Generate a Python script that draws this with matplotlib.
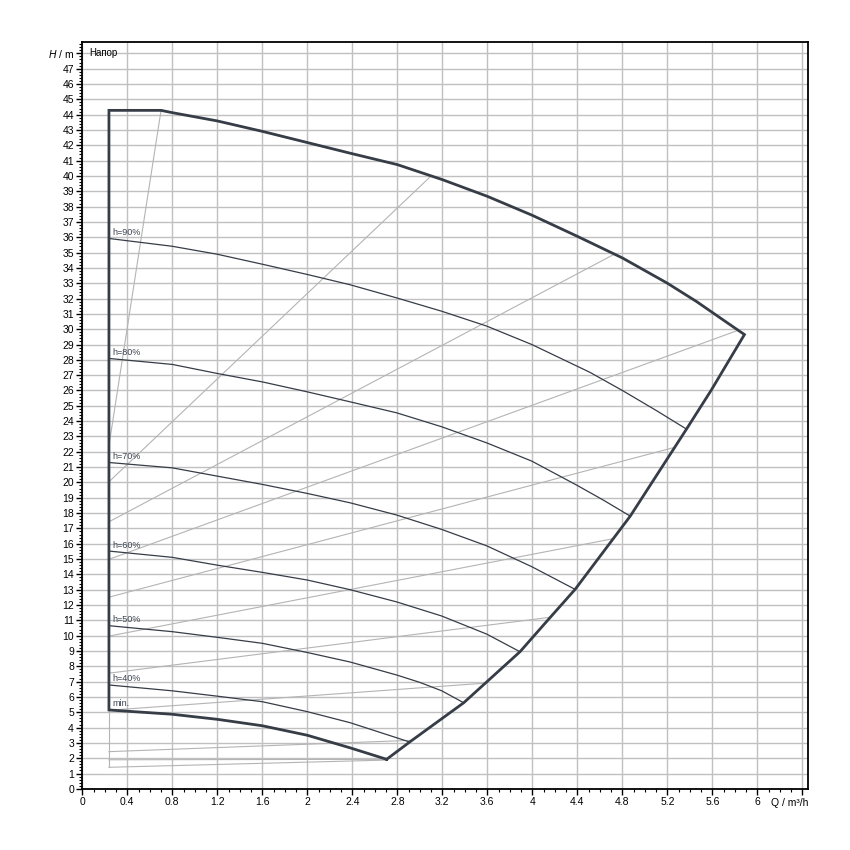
import numpy as np
import matplotlib
matplotlib.use("Agg")
import matplotlib.pyplot as plt

plt.rcParams['font.family'] = ['Liberation Sans', 'DejaVu Sans']
plt.rcParams['mathtext.fontset'] = 'custom'
plt.rcParams['mathtext.it'] = 'Liberation Sans:italic'
plt.rcParams['mathtext.rm'] = 'Liberation Sans'

# envelope of the operating range (Q in m3/h, H in m)
min_q = [2.705, 2.38, 2.0, 1.6, 1.2, 0.8, 0.237]
min_h = [1.93, 2.68, 3.5, 4.12, 4.54, 4.87, 5.15]
max_q = [0.237, 0.70, 0.8, 1.2, 1.6, 2.0, 2.4, 2.8, 3.2, 3.6, 4.0, 4.4, 4.8, 5.2, 5.46, 5.74, 5.885]
max_h = [44.28, 44.28, 44.13, 43.59, 42.91, 42.18, 41.45, 40.74, 39.76, 38.67, 37.43, 36.06, 34.65, 33.0, 31.8, 30.38, 29.65]
edge_q = [5.885, 5.59, 5.37, 4.87, 4.38, 4.16, 3.89, 3.39, 2.91, 2.705]
edge_h = [29.65, 26.02, 23.48, 17.8, 13.02, 11.2, 8.95, 5.62, 3.06, 1.93]

# speed curves
q90 = [0.237, 0.8, 1.2, 1.6, 2.0, 2.38, 2.795, 3.195, 3.595, 3.995, 4.513, 4.8, 5.1, 5.37]
h90 = [35.92, 35.41, 34.89, 34.24, 33.57, 32.9, 32.04, 31.17, 30.2, 29.0, 27.18, 26.0, 24.7, 23.48]
q80 = [0.237, 0.8, 1.2, 1.6, 2.0, 2.38, 2.795, 3.195, 3.595, 3.995, 4.395, 4.63, 4.87]
h80 = [28.09, 27.7, 27.11, 26.56, 25.91, 25.26, 24.54, 23.63, 22.58, 21.39, 19.82, 18.85, 17.8]
q70 = [0.237, 0.8, 1.2, 1.6, 2.0, 2.38, 2.795, 3.195, 3.595, 3.995, 4.38]
h70 = [21.3, 20.95, 20.41, 19.87, 19.28, 18.67, 17.87, 16.93, 15.86, 14.5, 13.02]
q60 = [0.237, 0.8, 1.2, 1.6, 2.0, 2.38, 2.795, 3.195, 3.595, 3.89]
h60 = [15.52, 15.11, 14.6, 14.13, 13.63, 13.0, 12.2, 11.28, 10.1, 8.95]
q50 = [0.237, 0.8, 1.2, 1.6, 2.0, 2.38, 2.795, 3.0, 3.195, 3.39]
h50 = [10.65, 10.26, 9.89, 9.5, 8.9, 8.28, 7.43, 6.95, 6.4, 5.62]
q40 = [0.237, 0.8, 1.2, 1.6, 2.0, 2.38, 2.91]
h40 = [6.78, 6.4, 6.05, 5.69, 5.04, 4.32, 3.06]
speed_labels = ["h=90%", "h=80%", "h=70%", "h=60%", "h=50%", "h=40%"]

# control lines (start on left edge, end on envelope)
ctrl_q0 = [0.237, 0.237, 0.237, 0.237, 0.237, 0.237, 0.237, 0.237, 0.237, 0.237, 0.237]
ctrl_h0 = [22.4, 20.04, 17.43, 14.98, 12.51, 9.97, 7.55, 5.13, 2.43, 1.9, 1.41]
ctrl_q1 = [0.70, 3.09, 4.73, 5.83, 5.27, 4.72, 4.16, 3.58, 2.93, 2.705, 2.705]
ctrl_h1 = [44.28, 39.93, 34.9, 29.93, 22.3, 16.33, 11.2, 6.9, 3.17, 1.93, 1.88]

dark = '#363d47'
gray = '#b4b4b4'

fig = plt.figure(figsize=(8.5, 8.5), dpi=100)
ax = fig.add_axes([0.0968, 0.0719, 0.8542, 0.8783])
ax.set_xlim(0, 6.453)
ax.set_ylim(0, 48.72)

xt = np.arange(0, 6.41, 0.4)
ax.set_xticks(xt)
ax.set_xticks(np.arange(0, 6.45, 0.1), minor=True)
ax.set_yticks(np.arange(0, 49, 1))
ax.set_yticks(np.arange(0, 48.7, 0.2), minor=True)
xl = []
for v in xt:
    if v > 6.2:
        xl.append("")
    elif abs(v - round(v)) < 1e-6:
        xl.append("%d" % round(v))
    else:
        xl.append("%.1f" % v)
ax.set_xticklabels(xl)
yl = [str(i) for i in range(48)] + [r"$H$ / m"]
ax.set_yticklabels(yl)
ax.tick_params(which='major', length=4, width=1, labelsize=7.5, pad=2, color='black')
ax.tick_params(which='minor', length=2, width=0.8, color='black')
ax.grid(True, which='major', color='#c0c0c0', lw=1.0)
ax.set_axisbelow(True)
for s in ax.spines.values():
    s.set_linewidth(1.3)

# control lines
for i in range(len(ctrl_h0)):
    ax.plot([ctrl_q0[i], ctrl_q1[i]], [ctrl_h0[i], ctrl_h1[i]], color=gray, lw=0.8)
ax.plot([0.237, 0.237], [1.41, 5.15], color=gray, lw=0.8)

# speed curves
curves = [(q90, h90), (q80, h80), (q70, h70), (q60, h60), (q50, h50), (q40, h40)]
for (q, h), lab in zip(curves, speed_labels):
    ax.plot(q, h, color=dark, lw=0.9)
    ax.text(q[0] + 0.03, h[0] + 0.1, lab, fontsize=6.5, color='#3c4450', va='bottom')
ax.text(min_q[-1] + 0.03, min_h[-1] + 0.1, "min.", fontsize=6.5, color='#3c4450', va='bottom')

# envelope
env_q = min_q + max_q + edge_q
env_h = min_h + max_h + edge_h
ax.plot(env_q, env_h, color=dark, lw=2.0, solid_joinstyle='miter')

ax.text(0.06, 48.05, "Напор", fontsize=7, va='center', ha='left')
fig.text(808 / 850, 1 - 803 / 850, "Q / m³/h", fontsize=7.5, ha='right', va='center')

fig.savefig("out.png", dpi=100)
